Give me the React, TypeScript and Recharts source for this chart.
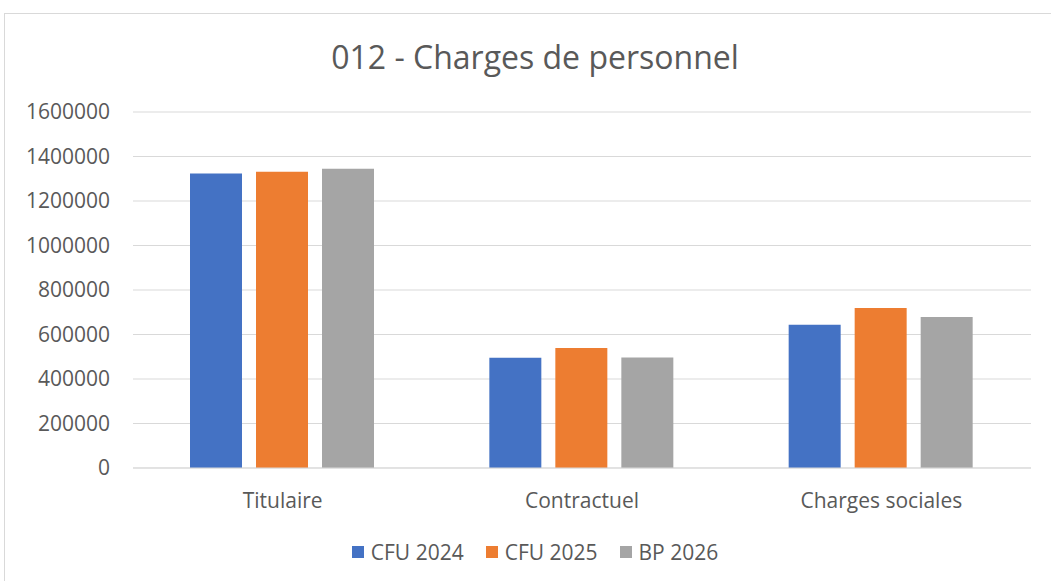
import React from 'react';
import { BarChart, Bar, XAxis, YAxis, CartesianGrid } from 'recharts';

const categories = ['Titulaire', 'Contractuel', 'Charges sociales'];
const cfu2024 = [1324000, 495000, 644000];
const cfu2025 = [1332000, 539000, 719000];
const bp2026 = [1345000, 497000, 679000];
const yTicks = [0, 200000, 400000, 600000, 800000, 1000000, 1200000, 1400000, 1600000];
const seriesNames = ['CFU 2024', 'CFU 2025', 'BP 2026'];
const seriesKeys = ['cfu2024', 'cfu2025', 'bp2026'];
const seriesColors = ['#4472C4', '#ED7D31', '#A5A5A5'];
const title = '012 - Charges de personnel';

const data = categories.map((c, i) => ({
  name: c,
  cfu2024: cfu2024[i],
  cfu2025: cfu2025[i],
  bp2026: bp2026[i],
}));

const FONT = '"Open Sans", sans-serif';
const TEXT = '#595959';

export default function App() {
  return (
    <div style={{ position: 'fixed', left: 0, top: 0, width: 1051, height: 581, overflow: 'hidden', background: '#fff' }}>
      <div style={{ position: 'absolute', left: 4, top: 13, width: 1062, height: 620, border: '1px solid #d9d9d9', boxSizing: 'border-box' }} />
      <div style={{ position: 'absolute', left: 4, top: 36, width: 1062, textAlign: 'center', fontFamily: FONT, fontSize: 32, color: TEXT, lineHeight: '42px' }}>
        {title}
      </div>
      <div style={{ position: 'absolute', left: 0, top: 0 }}>
        <BarChart width={1051} height={581} data={data} margin={{ top: 112, right: 20, left: 0, bottom: 73 }} barCategoryGap={57} barGap={14}>
          <CartesianGrid vertical={false} stroke="#d9d9d9" strokeWidth={1} />
          <XAxis dataKey="name" axisLine={{ stroke: '#d9d9d9' }} tickLine={false} tickSize={0} tickMargin={25} height={40}
            tick={{ fill: TEXT, fontSize: 21, fontFamily: FONT }} interval={0} />
          <YAxis domain={[0, 1600000]} ticks={yTicks} axisLine={false} tickLine={false} tickSize={0} tickMargin={23} width={133}
            tick={{ fill: TEXT, fontSize: 21, fontFamily: FONT }} interval={0} />
          {seriesKeys.map((k, i) => (
            <Bar key={k} dataKey={k} name={seriesNames[i]} fill={seriesColors[i]} isAnimationActive={false} />
          ))}
        </BarChart>
      </div>
      <div style={{ position: 'absolute', left: 4, top: 538, width: 1062, display: 'flex', justifyContent: 'center', alignItems: 'center', fontFamily: FONT, fontSize: 21, color: TEXT, lineHeight: '28px' }}>
        {seriesNames.map((n, i) => (
          <div key={n} style={{ display: 'flex', alignItems: 'center', marginRight: i < seriesNames.length - 1 ? 22 : 0 }}>
            <span style={{ display: 'inline-block', width: 12, height: 12, background: seriesColors[i], marginRight: 7 }} />
            <span>{n}</span>
          </div>
        ))}
      </div>
    </div>
  );
}
